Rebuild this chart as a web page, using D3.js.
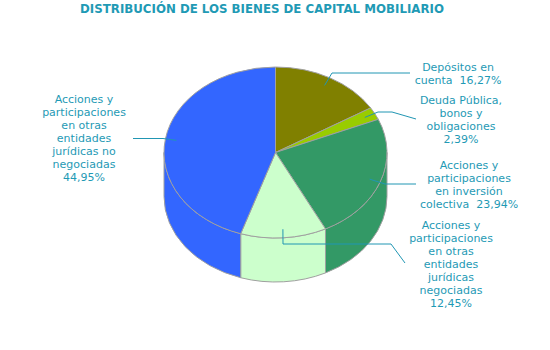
<!DOCTYPE html>
<html>
<head>
<meta charset="utf-8">
<script src="https://cdn.jsdelivr.net/npm/d3@7"></script>
<style>
  body { margin: 0; background: #fff; }
  text { font-family: "DejaVu Sans", Verdana, sans-serif; }
</style>
</head>
<body>
<svg id="canvas"></svg>
<script>
let categories = ["Depósitos en cuenta", "Deuda Pública, bonos y obligaciones", "Acciones y participaciones en inversión colectiva", "Acciones y participaciones en otras entidades jurídicas negociadas", "Acciones y participaciones en otras entidades jurídicas no negociadas"];
let values = [16.27, 2.39, 23.94, 12.45, 44.95];
let colors = ["#808000", "#99cc00", "#339966", "#ccffcc", "#3366ff"];
let labelLines = [
  ["Depósitos en", "cuenta"],
  ["Deuda Pública,", "bonos y", "obligaciones"],
  ["Acciones y", "participaciones", "en inversión", "colectiva"],
  ["Acciones y", "participaciones", "en otras", "entidades", "jurídicas", "negociadas"],
  ["Acciones y", "participaciones", "en otras", "entidades", "jurídicas no", "negociadas"]
];
let valueInline = [true, false, true, false, false];

let width = 550;
let height = 350;
let cx = 275.5, cy = 152.5, rx = 111.5, ry = 85.5, depth = 44;
let textColor = "#1f9ab5";
let lineColor = "#2196b3";

// label layout: text centre x, first line y, leader elbows
let labelPos = [
  {x: 458, y: 67, pts: [[332, 73], [410, 73]]},
  {x: 461, y: 100, pts: [[378, 112], [392, 112], [416, 119]]},
  {x: 469, y: 165, pts: [[385, 184], [416, 184]]},
  {x: 451, y: 225, pts: [[283, 244], [391, 244], [405, 263]]},
  {x: 84, y: 99, pts: [[163, 138.5], [133, 138.5]]}
];

let svg = d3.select('#canvas').attr('width', width).attr('height', height);

svg.append('text')
   .attr('x', 262).attr('y', 13)
   .attr('text-anchor', 'middle')
   .attr('fill', textColor)
   .style('font-weight', 'bold').style('font-size', '11.8px')
   .text('DISTRIBUCIÓN DE LOS BIENES DE CAPITAL MOBILIARIO');

let pie = d3.pie().sort(null).value(d => d)(values);

let pt = (a, r, z) => [cx + rx * r * Math.sin(a), cy - ry * r * Math.cos(a) + (z || 0)];

let topPath = (d) => {
  let p0 = pt(d.startAngle, 1), p1 = pt(d.endAngle, 1);
  let large = (d.endAngle - d.startAngle) > Math.PI ? 1 : 0;
  return 'M' + cx + ',' + cy + 'L' + p0 + 'A' + rx + ',' + ry + ' 0 ' + large + ' 1 ' + p1 + 'Z';
};

let sidePath = (d) => {
  let s = Math.max(d.startAngle, Math.PI / 2);
  let e = Math.min(d.endAngle, Math.PI * 1.5);
  if (e <= s) return null;
  let a = pt(s, 1), b = pt(e, 1), c = pt(e, 1, depth), f = pt(s, 1, depth);
  return 'M' + a + 'A' + rx + ',' + ry + ' 0 0 1 ' + b + 'L' + c +
         'A' + rx + ',' + ry + ' 0 0 0 ' + f + 'Z';
};

svg.append('g').selectAll('path')
   .data(pie.filter(d => sidePath(d)))
   .enter().append('path')
   .attr('d', sidePath)
   .attr('fill', (d) => colors[d.index])
   .attr('stroke', '#a0a0a0').attr('stroke-width', 1);

svg.append('g').selectAll('path')
   .data(pie)
   .enter().append('path')
   .attr('d', topPath)
   .attr('fill', (d) => colors[d.index])
   .attr('stroke', '#a0a0a0').attr('stroke-width', 1);

let fmt = (v) => d3.format('.2f')(v).replace('.', ',') + '%';

let labels = svg.append('g');
pie.forEach((d, i) => {
  let mid = (d.startAngle + d.endAngle) / 2;
  let anchor = pt(mid, 0.9);
  let line = d3.line();
  labels.append('path')
        .attr('d', line([anchor].concat(labelPos[i].pts)))
        .attr('fill', 'none').attr('stroke', lineColor).attr('stroke-width', 1);

  let lines = labelLines[i].slice();
  if (valueInline[i]) lines[lines.length - 1] += '  ' + fmt(values[i]);
  else lines.push(fmt(values[i]));
  let t = labels.append('text')
        .attr('text-anchor', 'middle')
        .attr('fill', textColor)
        .style('font-size', '11px')
        .style('white-space', 'pre');
  lines.forEach((l, k) => {
    t.append('tspan').attr('x', labelPos[i].x).attr('y', labelPos[i].y + 4 + k * 13).text(l);
  });
});
</script>
</body>
</html>
